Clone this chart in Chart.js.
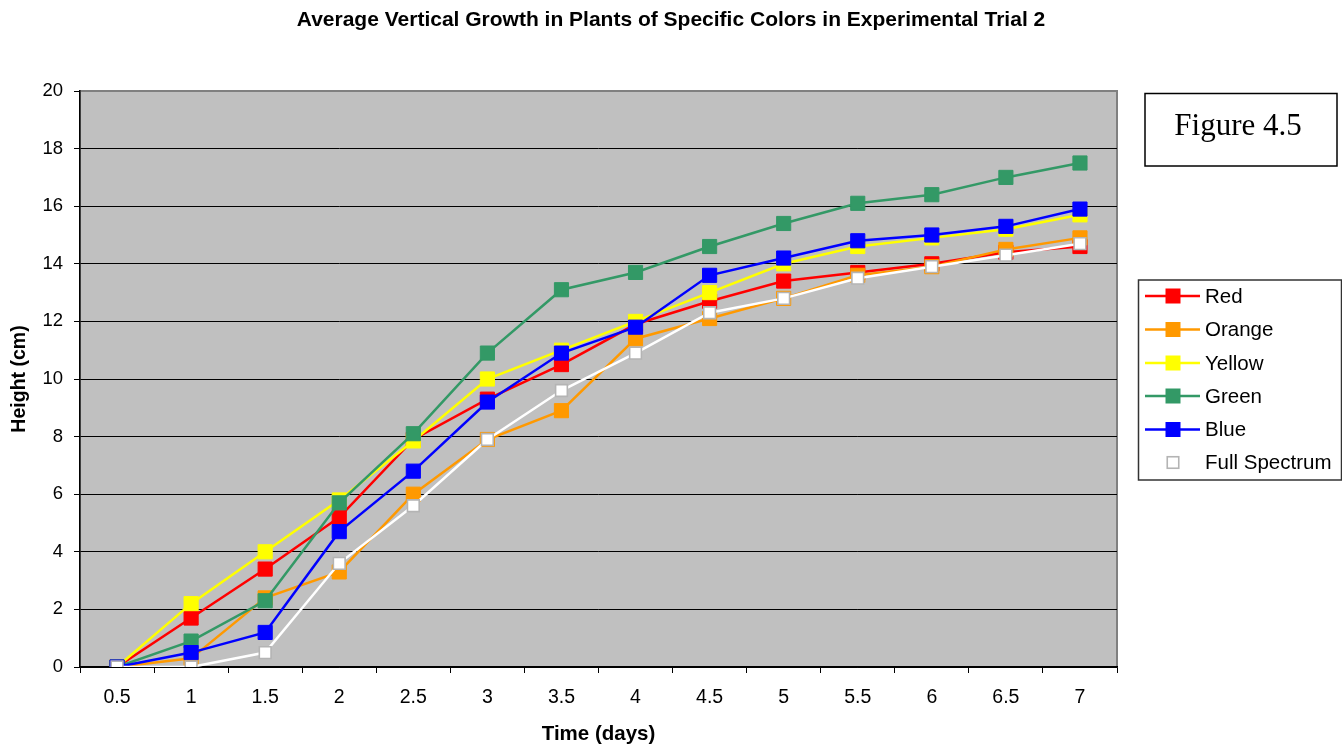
<!DOCTYPE html>
<html>
<head>
<meta charset="utf-8">
<script src="https://cdn.jsdelivr.net/npm/chart.js@4.4.0/dist/chart.umd.min.js"></script>
<style>
  html, body { margin: 0; padding: 0; background: #ffffff; }
  canvas { display: block; }
</style>
</head>
<body>
<canvas id="c" width="1342" height="749"></canvas>
<script>
const categories = ['0.5', '1', '1.5', '2', '2.5', '3', '3.5', '4', '4.5', '5', '5.5', '6', '6.5', '7'];
const seriesNames = ['Red', 'Orange', 'Yellow', 'Green', 'Blue', 'Full Spectrum'];
const red      = [0, 1.7, 3.4, 5.2, 7.9, 9.3, 10.5, 11.9, 12.7, 13.4, 13.7, 14.0, 14.4, 14.6];
const orange   = [0, 0.3, 2.4, 3.3, 6.0, 7.9, 8.9, 11.4, 12.1, 12.8, 13.6, 13.9, 14.5, 14.9];
const yellow   = [0, 2.2, 4.0, 5.8, 7.85, 10.0, 11.0, 12.0, 13.0, 14.0, 14.6, 14.9, 15.2, 15.7];
const green    = [0, 0.9, 2.3, 5.7, 8.1, 10.9, 13.1, 13.7, 14.6, 15.4, 16.1, 16.4, 17.0, 17.5];
const blue     = [0, 0.5, 1.2, 4.7, 6.8, 9.2, 10.9, 11.8, 13.6, 14.2, 14.8, 15.0, 15.3, 15.9];
const fullSpec = [0, 0, 0.5, 3.6, 5.6, 7.9, 9.6, 10.9, 12.3, 12.8, 13.5, 13.9, 14.3, 14.7];
const yTicks = [0, 2, 4, 6, 8, 10, 12, 14, 16, 18, 20];

const chartTitle = 'Average Vertical Growth in Plants of Specific Colors in Experimental Trial 2';
const xTitle = 'Time (days)';
const yTitle = 'Height (cm)';
const figureLabel = 'Figure 4.5';

const lineColors  = ['#FF0000', '#FF9900', '#FFFF00', '#339966', '#0000FF', '#FFFFFF'];
const pointFills  = ['#FF0000', '#FF9900', '#FFFF00', '#339966', '#0000FF', '#FFFFFF'];
const pointEdges  = ['#FF0000', '#FF9900', '#FFFF00', '#339966', '#0000FF', '#B4B4B4'];
const allValues = [red, orange, yellow, green, blue, fullSpec];

const FONT = "'Liberation Sans', Arial, Helvetica, sans-serif";

const datasets = allValues.map((vals, i) => ({
  label: seriesNames[i],
  data: vals,
  borderColor: lineColors[i],
  backgroundColor: pointFills[i],
  pointBackgroundColor: pointFills[i],
  pointBorderColor: pointEdges[i],
  pointBorderWidth: i === 5 ? 1.6 : 1,
  pointStyle: 'rect',
  pointRadius: i === 5 ? 8.3 : 10,
  borderWidth: 2.5,
  tension: 0,
  fill: false,
  order: 5 - i
}));

const plotBg = {
  id: 'plotBg',
  beforeDraw(chart) {
    const a = chart.chartArea;
    const ctx = chart.ctx;
    ctx.save();
    ctx.fillStyle = '#C0C0C0';
    ctx.fillRect(a.left, a.top, a.right - a.left, a.bottom - a.top);
    ctx.strokeStyle = '#808080';
    ctx.lineWidth = 2;
    ctx.strokeRect(a.left, a.top, a.right - a.left, a.bottom - a.top);
    ctx.restore();
  }
};

const sideBoxes = {
  id: 'sideBoxes',
  afterDraw(chart) {
    const ctx = chart.ctx;
    ctx.save();
    // Figure label box
    ctx.strokeStyle = '#000';
    ctx.lineWidth = 1.5;
    ctx.strokeRect(1145, 93.5, 192, 72.5);
    ctx.fillStyle = '#000';
    ctx.font = "31px 'Liberation Serif', 'Times New Roman', serif";
    ctx.textAlign = 'center';
    ctx.textBaseline = 'alphabetic';
    ctx.fillText(figureLabel, 1238, 135);

    // Legend box
    ctx.strokeStyle = '#333';
    ctx.lineWidth = 1.5;
    ctx.strokeRect(1138.5, 280, 203, 200);
    const ys = [296, 329.5, 363, 396, 429.5, 462.5];
    chart.data.datasets.forEach((ds, i) => {
      const y = ys[i];
      ctx.strokeStyle = ds.borderColor;
      ctx.lineWidth = 2.5;
      ctx.beginPath();
      ctx.moveTo(1145, y);
      ctx.lineTo(1200, y);
      ctx.stroke();
      const s = i === 5 ? 11.5 : 14;
      ctx.fillStyle = ds.pointBackgroundColor;
      ctx.fillRect(1173 - s / 2, y - s / 2, s, s);
      ctx.strokeStyle = ds.pointBorderColor;
      ctx.lineWidth = ds.pointBorderWidth;
      ctx.strokeRect(1173 - s / 2, y - s / 2, s, s);
      ctx.fillStyle = '#000';
      ctx.font = '20.5px ' + FONT;
      ctx.textAlign = 'left';
      ctx.textBaseline = 'middle';
      ctx.fillText(ds.label, 1205, y + 1);
    });
    ctx.restore();
  }
};

new Chart(document.getElementById('c'), {
  type: 'line',
  data: { labels: categories, datasets: datasets },
  options: {
    responsive: false,
    animation: false,
    events: [],
    layout: { padding: 0 },
    plugins: {
      legend: { display: false },
      tooltip: { enabled: false },
      title: {
        display: true,
        text: chartTitle,
        color: '#000',
        font: { family: FONT, size: 21, weight: 'bold', lineHeight: 1.2 },
        padding: { top: 7.5, bottom: 58.3 }
      }
    },
    scales: {
      x: {
        type: 'category',
        offset: true,
        grid: {
          display: true,
          offset: true,
          drawOnChartArea: false,
          drawTicks: true,
          tickLength: 6,
          tickColor: '#000',
          tickWidth: 1
        },
        border: { display: true, color: '#000', width: 1.5 },
        ticks: {
          color: '#000',
          font: { family: FONT, size: 19.5 },
          padding: 13,
          maxRotation: 0,
          autoSkip: false
        },
        title: {
          display: true,
          text: xTitle,
          color: '#000',
          font: { family: FONT, size: 20.5, weight: 'bold', lineHeight: 1.2 },
          padding: { top: 0, bottom: 2 }
        },
        afterFit(s) { s.height = 82; }
      },
      y: {
        type: 'linear',
        position: 'left',
        min: 0,
        max: 20,
        afterBuildTicks(s) { s.ticks = yTicks.map(v => ({ value: v })); },
        grid: {
          color: (c) => (c.tick && c.tick.value === 20 ? '#808080' : '#000'),
          lineWidth: 1,
          drawTicks: true,
          tickLength: 6,
          tickColor: '#000'
        },
        border: { display: true, color: '#000', width: 1.5 },
        ticks: {
          color: '#000',
          font: { family: FONT, size: 18.5 },
          padding: 11
        },
        title: {
          display: true,
          text: yTitle,
          color: '#000',
          font: { family: FONT, size: 19.5, weight: 'bold', lineHeight: 1.2 },
          padding: { top: 8, bottom: 0 }
        },
        afterFit(s) { s.width = 80; }
      },
      spacer: {
        type: 'linear',
        position: 'right',
        display: true,
        grid: { display: false, drawTicks: false },
        border: { display: false },
        ticks: { display: false },
        title: { display: false },
        afterFit(s) { s.width = 225; }
      }
    }
  },
  plugins: [plotBg, sideBoxes]
});
</script>
</body>
</html>
